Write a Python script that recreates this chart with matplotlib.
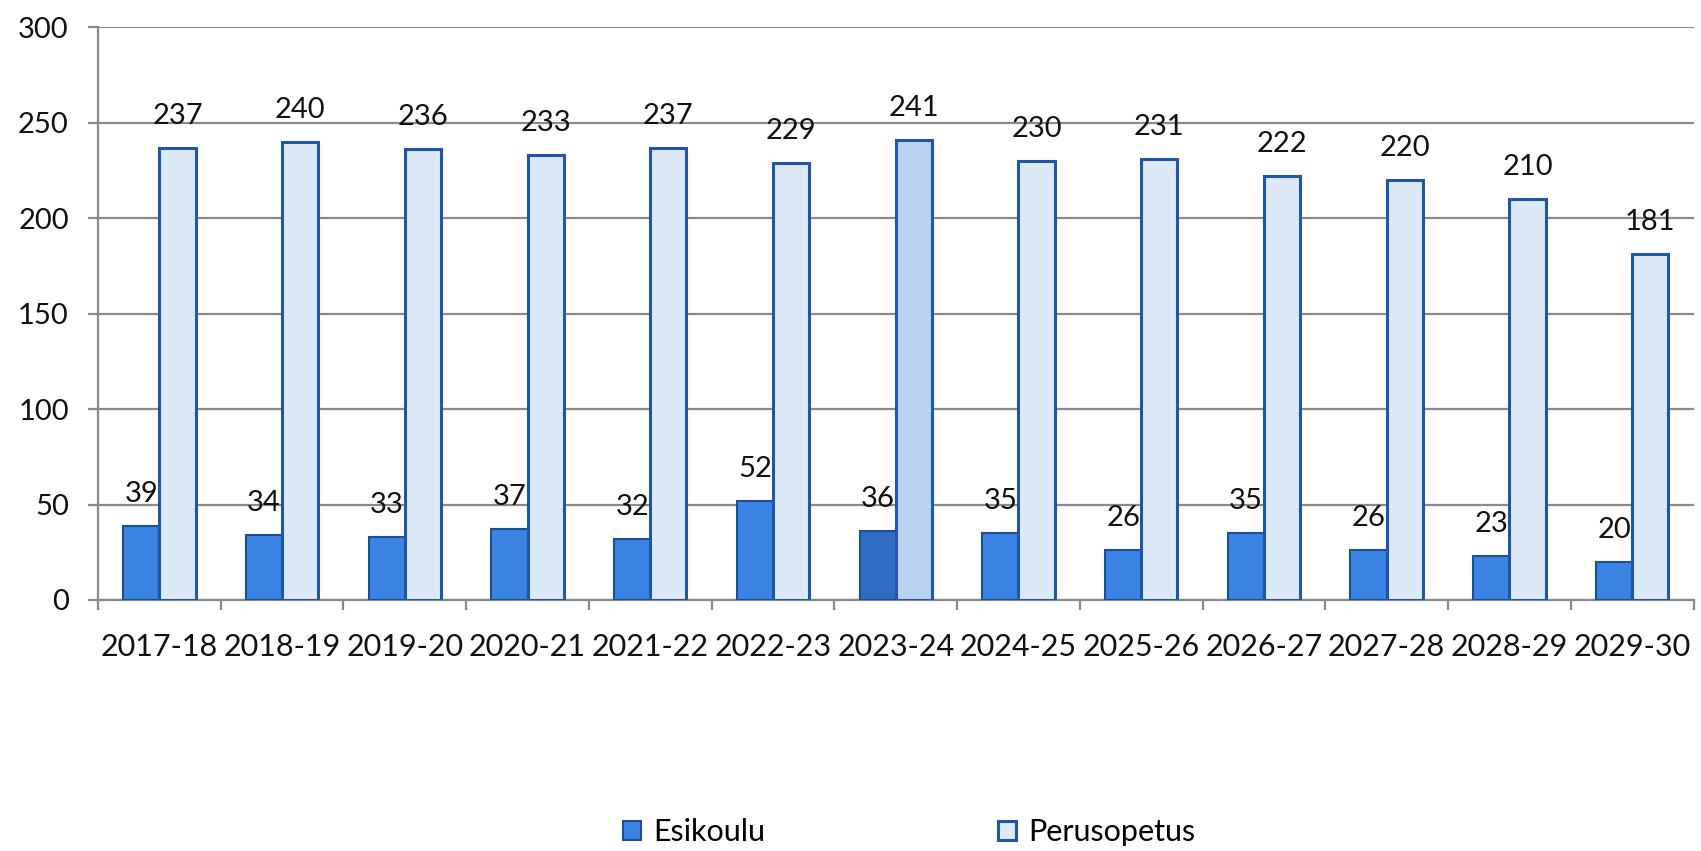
import numpy as np
import matplotlib.pyplot as plt

# data
years = ["2017-18", "2018-19", "2019-20", "2020-21", "2021-22", "2022-23", "2023-24",
         "2024-25", "2025-26", "2026-27", "2027-28", "2028-29", "2029-30"]
esikoulu = [39, 34, 33, 37, 32, 52, 36, 35, 26, 35, 26, 23, 20]
perusopetus = [237, 240, 236, 233, 237, 229, 241, 230, 231, 222, 220, 210, 181]
highlight = "2023-24"

plt.rcParams['font.family'] = ['Lato', 'DejaVu Sans']

fig = plt.figure(figsize=(17.01, 8.51), dpi=100)
ax = fig.add_axes([0.0576, 0.295, 0.938, 0.673])

x = np.arange(len(years))
w = 0.295

esi_col = ["#2e6cc2" if y == highlight else "#3b84e3" for y in years]
per_col = ["#b9d3f1" if y == highlight else "#dde9f6" for y in years]

b1 = ax.bar(x - w / 2, esikoulu, w, color=esi_col, edgecolor="#1f4e98", linewidth=1.5,
            label="Esikoulu", zorder=3)
b2 = ax.bar(x + w / 2, perusopetus, w, color=per_col, edgecolor="#1f56a8", linewidth=2.2,
            label="Perusopetus", zorder=3)

for bars, vals in ((b1, esikoulu), (b2, perusopetus)):
    for r, v in zip(bars, vals):
        ax.annotate(str(v), (r.get_x() + r.get_width() / 2, v), xytext=(0, 23),
                    textcoords="offset points", ha="center", va="center",
                    fontsize=21, color="#111111", zorder=4)

ax.set_ylim(0, 300)
ax.set_yticks(range(0, 301, 50))
ax.set_xlim(-0.5, len(years) - 0.5)
ax.set_xticks(x)
ax.set_xticklabels(years)
ax.set_xticks(np.arange(-0.5, len(years), 1), minor=True)

ax.yaxis.grid(True, color="#8a8a8a", linewidth=1.6, zorder=0)
ax.set_axisbelow(True)
for s in ("top", "right"):
    ax.spines[s].set_visible(False)
for s in ("left", "bottom"):
    ax.spines[s].set_color("#8a8a8a")
    ax.spines[s].set_linewidth(1.6)

ax.tick_params(axis="y", length=7, width=1.6, color="#8a8a8a", pad=14, labelsize=21,
               labelcolor="#111111")
ax.tick_params(axis="x", which="major", length=0, pad=24, labelsize=22,
               labelcolor="#111111")
ax.tick_params(axis="x", which="minor", length=7, width=1.6, color="#8a8a8a")

ax.legend(loc="center left", bbox_to_anchor=(623 / 1701, 0.022),
          bbox_transform=fig.transFigure, ncol=2, frameon=False,
          fontsize=22, handlelength=0.6, handleheight=0.6, columnspacing=7.6,
          handletextpad=0.4, borderpad=0, borderaxespad=0)

fig.savefig("out.png", dpi=100)
